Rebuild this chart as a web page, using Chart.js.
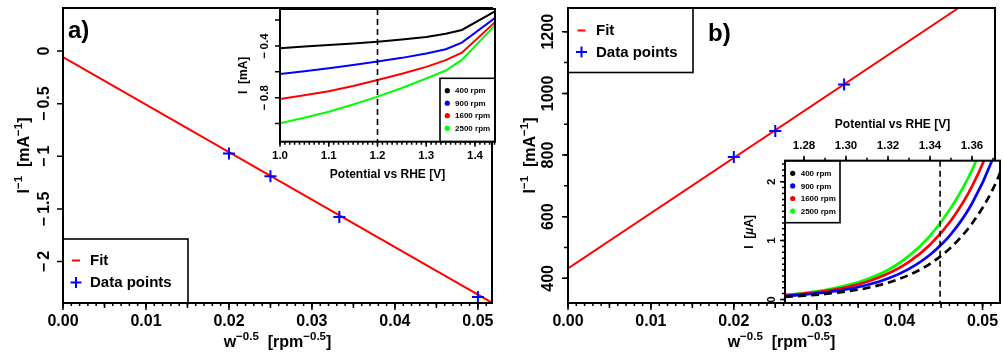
<!DOCTYPE html>
<html>
<head>
<meta charset="utf-8">
<title>Koutecky-Levich plots</title>
<script src="https://cdn.jsdelivr.net/npm/chart.js@4.4.1/dist/chart.umd.min.js"></script>
<style>
  body { margin: 0; background: #fff; }
  #fig { position: relative; width: 1003px; height: 354px; overflow: hidden; background: #fff; }
  #fig canvas { position: absolute; }
</style>
</head>
<body>
<div id="fig">
  <canvas id="mainA" width="500" height="354" style="left:0;top:0"></canvas>
  <canvas id="mainB" width="503" height="354" style="left:500px;top:0"></canvas>
  <canvas id="insetA" width="270" height="190" style="left:230px;top:0"></canvas>
  <canvas id="insetB" width="268" height="200" style="left:735px;top:110px"></canvas>
</div>
<script>
// ---- values ----
const rpmLabels = ["400 rpm", "900 rpm", "1600 rpm", "2500 rpm"];

// a) I^-1 [mA^-1] vs w^-0.5
const wA = [0.05, 0.0333, 0.025, 0.02];
const invIA = [-2.336, -1.575, -1.19, -0.972];
const fitWA = [0, 0.0517];
const fitInvIA = [-0.057, -2.39];

// b) (400 rpm point is off the top of the plot)
const wB = [0.0333, 0.025, 0.02];
const invIB = [1029, 878, 794];
const fitWB = [0, 0.0471];
const fitInvIB = [432, 1277];

// inset a) I [mA] vs potential [V]
const potA = [1.0, 1.05, 1.1, 1.15, 1.2, 1.25, 1.3, 1.34, 1.373, 1.44];
const curA400 = [-0.418, -0.405, -0.392, -0.380, -0.367, -0.350, -0.330, -0.305, -0.276, -0.134];
const curA900 = [-0.617, -0.595, -0.573, -0.548, -0.521, -0.492, -0.458, -0.425, -0.374, -0.186];
const curA1600 = [-0.810, -0.782, -0.750, -0.710, -0.663, -0.615, -0.562, -0.510, -0.452, -0.220];
const curA2500 = [-0.998, -0.955, -0.909, -0.853, -0.792, -0.725, -0.652, -0.590, -0.508, -0.245];
const markA = 1.2;

// inset b) I [uA] vs potential [V]
const potB = [1.271, 1.28, 1.29, 1.30, 1.31, 1.32, 1.33, 1.34, 1.35, 1.36, 1.37, 1.38];
const curB400 = [0.045, 0.064, 0.093, 0.135, 0.195, 0.285, 0.415, 0.605, 0.885, 1.29, 1.88, 2.75];
const curB900 = [0.058, 0.083, 0.118, 0.17, 0.245, 0.355, 0.52, 0.76, 1.11, 1.63, 2.40, 3.5];
const curB1600 = [0.068, 0.098, 0.142, 0.205, 0.30, 0.44, 0.64, 0.93, 1.34, 1.92, 2.75, 3.9];
const curB2500 = [0.076, 0.11, 0.16, 0.235, 0.345, 0.50, 0.74, 1.08, 1.56, 2.20, 3.1, 4.3];
const markB = 1.3448;

// tick labels
const xTicksMain = [0, 0.01, 0.02, 0.03, 0.04, 0.05];
const yTicksA = [0, -0.5, -1, -1.5, -2];
const yTicksB = [400, 600, 800, 1000, 1200];
const xTicksInsetA = [1.0, 1.1, 1.2, 1.3, 1.4];
const yTicksInsetA = [-0.4, -0.8];
const xTicksInsetB = [1.28, 1.30, 1.32, 1.34, 1.36];
const yTicksInsetB = [0, 1, 2];

// ---- helpers ----
const FAMILY = '"Liberation Sans", Arial, Helvetica, sans-serif';
const font = (size, style = "bold") => `${style} ${size}px ${FAMILY}`;
const pts = (xs, ys) => xs.map((x, i) => ({ x, y: ys[i] }));
function steps(a, b, step) {
  const out = [];
  for (let i = 0; a + i * step <= b + step / 1000; i++) out.push(+(a + i * step).toFixed(6));
  return out;
}
const minus = v => (v < 0 ? "\u2212\u2009" + Math.abs(v) : String(v));

function richText(ctx, parts, size, x, y, rot) {
  const fontOf = k => (k === "sup" ? font(size * 0.72) : k === "it" ? font(size, "italic bold") : font(size));
  ctx.save();
  ctx.translate(x, y);
  if (rot) ctx.rotate(rot);
  let w = 0;
  const ws = parts.map(([t, k]) => { ctx.font = fontOf(k); const m = ctx.measureText(t).width; w += m; return m; });
  let cx = -w / 2;
  ctx.textAlign = "left";
  ctx.textBaseline = "alphabetic";
  ctx.fillStyle = "#000";
  parts.forEach(([t, k], i) => {
    ctx.font = fontOf(k);
    ctx.fillText(t, cx, k === "sup" ? -size * 0.42 : 0);
    cx += ws[i];
  });
  ctx.restore();
}

function drawAxis(chart, ax) {
  const { ctx, chartArea: a } = chart;
  const sc = chart.scales[ax.scale];
  const side = ax.side;
  const edge = side === "bottom" ? a.bottom : side === "top" ? a.top : a.left;
  const dir = side === "bottom" ? 1 : -1;
  const lo = Math.min(sc.min, sc.max) - 1e-9, hi = Math.max(sc.min, sc.max) + 1e-9;
  ctx.strokeStyle = "#000";
  ctx.lineWidth = 1.5;
  ax.marks.forEach(([vals, len]) => {
    ctx.beginPath();
    vals.filter(v => v >= lo && v <= hi).forEach(v => {
      const p = sc.getPixelForValue(v);
      if (side === "left") { ctx.moveTo(edge, p); ctx.lineTo(edge - len, p); }
      else { ctx.moveTo(p, edge); ctx.lineTo(p, edge + dir * len); }
    });
    ctx.stroke();
  });
  ctx.fillStyle = "#000";
  ctx.font = font(ax.size);
  ctx.textAlign = "center";
  ctx.textBaseline = "alphabetic";
  ax.ticks.forEach(v => {
    const p = sc.getPixelForValue(v);
    const t = ax.format(v);
    if (side === "left") {
      ctx.save(); ctx.translate(edge - ax.gap, p); ctx.rotate(-Math.PI / 2); ctx.fillText(t, 0, 0); ctx.restore();
    } else {
      ctx.fillText(t, p, edge + dir * ax.gap);
    }
  });
  if (ax.title) {
    if (side === "left") richText(ctx, ax.title, ax.titleSize, edge - ax.titleGap, (a.top + a.bottom) / 2, -Math.PI / 2);
    else richText(ctx, ax.title, ax.titleSize, (a.left + a.right) / 2, edge + dir * ax.titleGap, 0);
  }
}

function drawLegend(chart, lg) {
  const { ctx, chartArea: a } = chart;
  const left = lg.right ? a.right - lg.w : a.left;
  const top = lg.bottom ? a.bottom - lg.h : a.top;
  ctx.fillStyle = "#fff";
  ctx.fillRect(left, top, lg.w, lg.h);
  ctx.strokeStyle = "#000";
  ctx.lineWidth = 1.6;
  ctx.strokeRect(left, top, lg.w, lg.h);
  ctx.font = font(lg.size);
  ctx.textAlign = "left";
  ctx.textBaseline = "middle";
  chart.data.datasets.filter(d => d.mark).forEach((d, i) => {
    const y = top + lg.y0 + i * lg.dy;
    const x = left + lg.mx;
    const col = d.borderColor;
    ctx.strokeStyle = col;
    ctx.fillStyle = col;
    ctx.lineWidth = 2;
    ctx.beginPath();
    if (d.mark === "dash") { ctx.moveTo(x - 4, y); ctx.lineTo(x + 4, y); ctx.stroke(); }
    else if (d.mark === "plus") { ctx.moveTo(x - 5.5, y); ctx.lineTo(x + 5.5, y); ctx.moveTo(x, y - 5.5); ctx.lineTo(x, y + 5.5); ctx.stroke(); }
    else { ctx.arc(x, y, lg.dot, 0, Math.PI * 2); ctx.fill(); }
    ctx.fillStyle = "#000";
    ctx.fillText(d.label, left + lg.tx, y + 0.5);
  });
}

function deco(spec) {
  return {
    id: "deco",
    beforeDatasetsDraw(chart) {
      if (!spec.fill) return;
      const { ctx, chartArea: a } = chart;
      ctx.save();
      ctx.fillStyle = spec.fill;
      ctx.fillRect(a.left, a.top, a.right - a.left, a.bottom - a.top);
      ctx.restore();
    },
    afterDatasetsDraw(chart) {
      const { ctx, chartArea: a } = chart;
      ctx.save();
      (spec.vlines || []).forEach(v => {
        const x = chart.scales.x.getPixelForValue(v);
        ctx.strokeStyle = "#000";
        ctx.lineWidth = 1.6;
        ctx.setLineDash([6, 4]);
        ctx.beginPath(); ctx.moveTo(x, a.top); ctx.lineTo(x, a.bottom); ctx.stroke();
      });
      ctx.setLineDash([]);
      if (spec.legend) drawLegend(chart, spec.legend);
      ctx.strokeStyle = "#000";
      ctx.lineWidth = 2;
      ctx.strokeRect(a.left, a.top, a.right - a.left, a.bottom - a.top);
      spec.axes.forEach(ax => drawAxis(chart, ax));
      if (spec.tag) {
        ctx.fillStyle = "#000";
        ctx.font = font(24);
        ctx.textAlign = "left";
        ctx.textBaseline = "alphabetic";
        ctx.fillText(spec.tag[0], a.left + spec.tag[1], a.top + spec.tag[2]);
      }
      ctx.restore();
    }
  };
}

function makeChart(id, pad, xr, yr, datasets, spec) {
  return new Chart(document.getElementById(id), {
    type: "line",
    data: { datasets },
    options: {
      animation: false,
      responsive: false,
      events: [],
      layout: { padding: pad },
      scales: {
        x: { type: "linear", display: false, min: xr[0], max: xr[1] },
        y: { type: "linear", display: false, min: yr[0], max: yr[1] }
      },
      plugins: { legend: { display: false }, tooltip: { enabled: false } }
    },
    plugins: [deco(spec)]
  });
}

// ---- shared axis definitions ----
const titleInvI = [["I", ""], ["\u22121", "sup"], ["  [mA", ""], ["\u22121", "sup"], ["]", ""]];
const titleW = [["w", ""], ["\u22120.5", "sup"], ["  [rpm", ""], ["\u22120.5", "sup"], ["]", ""]];
const titlePot = [["Potential vs RHE [V]", ""]];

const xAxisMain = {
  scale: "x", side: "bottom",
  marks: [[steps(0, 0.052, 0.001), 3], [steps(0, 0.052, 0.005), 5], [xTicksMain, 7]],
  ticks: xTicksMain, format: v => v.toFixed(2), size: 16, gap: 23,
  title: titleW, titleSize: 16, titleGap: 44
};

const fitSet = (xs, ys) => ({
  label: "Fit", data: pts(xs, ys), borderColor: "#ff0000", borderWidth: 2,
  pointRadius: 0, mark: "dash", order: 1
});
const pointSet = (xs, ys) => ({
  label: "Data points", data: pts(xs, ys), showLine: false, borderColor: "#0000ff",
  pointStyle: "cross", pointRadius: 6, pointBorderWidth: 2, pointBorderColor: "#0000ff", mark: "plus", order: 0
});

// ---- a) ----
makeChart("mainA", { left: 63, top: 8, right: 5, bottom: 51 }, [0, 0.0517], [-2.393, 0.409],
  [fitSet(fitWA, fitInvIA), pointSet(wA, invIA)],
  {
    tag: ["a)", 5, 30],
    legend: { bottom: true, w: 125, h: 64, y0: 21.5, dy: 22, mx: 13, tx: 27, size: 15 },
    axes: [
      xAxisMain,
      { scale: "y", side: "left", marks: [[yTicksA, 6]], ticks: yTicksA, format: minus, size: 16, gap: 14.5,
        title: titleInvI, titleSize: 16, titleGap: 34 }
    ]
  });

// ---- b) ----
makeChart("mainB", { left: 68, top: 8, right: 3, bottom: 51 }, [0, 0.0515], [320, 1277],
  [fitSet(fitWB, fitInvIB), pointSet(wB, invIB)],
  {
    tag: ["b)", 140, 33],
    legend: { w: 125, h: 64.5, y0: 22.5, dy: 21.6, mx: 13.5, tx: 28, size: 15 },
    axes: [
      xAxisMain,
      { scale: "y", side: "left", marks: [[steps(300, 1300, 100), 4], [yTicksB, 6]], ticks: yTicksB, format: String,
        size: 16, gap: 15, title: titleInvI, titleSize: 16, titleGap: 33 }
    ]
  });

// ---- inset a) ----
const rpmColors = ["#000000", "#0000ff", "#ff0000", "#00ff00"];
const curveSet = (i, xs, ys, w, extra) => Object.assign({
  label: rpmLabels[i], data: pts(xs, ys), borderColor: rpmColors[i], borderWidth: w,
  pointRadius: 0, mark: "dot", clip: 0
}, extra || {});

makeChart("insetA", { left: 50, top: 9, right: 5, bottom: 48.3 }, [1.0, 1.441], [-1.1406, -0.114],
  [curA400, curA900, curA1600, curA2500].map((c, i) => curveSet(i, potA, c, 2, { tension: 0 })),
  {
    fill: "#fff",
    vlines: [markA],
    legend: { right: true, bottom: true, w: 55, h: 63.4, y0: 12.4, dy: 12.5, mx: 7.3, tx: 15, size: 8, dot: 2.6 },
    axes: [
      { scale: "x", side: "bottom", marks: [[steps(1.0, 1.44, 0.01), 3], [xTicksInsetA, 5]], ticks: xTicksInsetA,
        format: v => v.toFixed(1), size: 11.5, gap: 17.6, title: titlePot, titleSize: 12, titleGap: 36.3 },
      { scale: "y", side: "left", marks: [[steps(-1.0, -0.2, 0.2), 5]], ticks: yTicksInsetA,
        format: minus, size: 11.5, gap: 12, title: [["I  [mA]", ""]], titleSize: 12, titleGap: 33 }
    ]
  });

// ---- inset b) ----
makeChart("insetB", { left: 50, top: 50.7, right: 3, bottom: 7 }, [1.27095, 1.37333], [-0.06, 2.357],
  [curB400, curB900, curB1600, curB2500].map((c, i) => curveSet(i, potB, c, 2.7,
    Object.assign({ cubicInterpolationMode: "monotone" }, i === 0 ? { borderDash: [8, 5] } : {}))),
  {
    fill: "#fff",
    vlines: [markB],
    legend: { w: 55, h: 62, y0: 12.6, dy: 12.6, mx: 7.7, tx: 15.7, size: 8, dot: 2.6 },
    axes: [
      { scale: "x", side: "top", marks: [[steps(1.27, 1.37, 0.01), 3], [xTicksInsetB, 5]], ticks: xTicksInsetB,
        format: v => v.toFixed(2), size: 11.5, gap: 11.4, title: titlePot, titleSize: 12, titleGap: 32.4 },
      { scale: "y", side: "left", marks: [[steps(0, 2.3, 0.1), 3], [yTicksInsetB, 5]], ticks: yTicksInsetB,
        format: String, size: 11.5, gap: 10, title: [["I  [", ""], ["\u03bc", "it"], ["A]", ""]], titleSize: 12, titleGap: 32 }
    ]
  });
</script>
</body>
</html>
